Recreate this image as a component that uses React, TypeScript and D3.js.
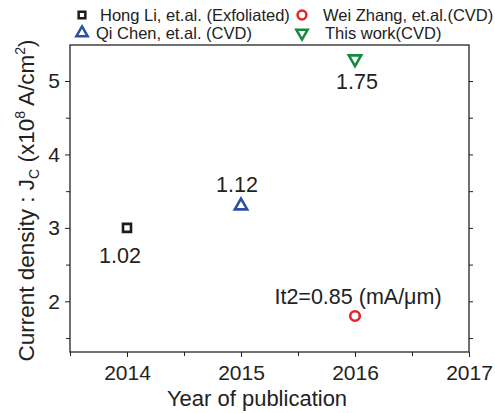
import React, { useEffect, useRef } from "react";
import * as d3 from "d3";

// Series / data
const seriesNames = [
  "Hong Li, et.al. (Exfoliated)",
  "Qi Chen, et.al. (CVD)",
  "Wei Zhang, et.al.(CVD)",
  "This work(CVD)",
];
const years = [2014, 2015, 2016, 2016];
const jcValues = [3.0, 3.3, 1.8, 5.3];
const pointNotes = ["1.02", "1.12", "It2=0.85 (mA/\u03bcm)", "1.75"];
const symbolKinds = ["square", "triangle", "circle", "triangleDown"];
const seriesColors = ["#1c1c1c", "#2d4fa3", "#e8202a", "#168a3c"];

const xTicks = [2014, 2015, 2016, 2017];
const yTicks = [2, 3, 4, 5];

const App: React.FC = () => {
  const svgRef = useRef<SVGSVGElement>(null);

  useEffect(() => {
    if (!svgRef.current) return;
    const width = 495;
    const height = 413;
    const margin = { top: 45, right: 26, bottom: 61, left: 70 };
    const innerW = width - margin.left - margin.right;
    const innerH = height - margin.top - margin.bottom;
    const font = "'Liberation Sans', Arial, sans-serif";
    const ink = "#222";

    const svg = d3.select(svgRef.current);
    svg.selectAll("*").remove();
    svg.attr("width", width).attr("height", height).style("font-family", font);

    const g = svg
      .append("g")
      .attr("transform", `translate(${margin.left},${margin.top})`);

    const x = d3.scaleLinear().domain([2013.5, 2017]).range([0, innerW]);
    const y = d3.scaleLinear().domain([1.31, 5.49]).range([innerH, 0]);

    // frame
    g.append("rect")
      .attr("width", innerW)
      .attr("height", innerH)
      .attr("fill", "none")
      .attr("stroke", ink)
      .attr("stroke-width", 1.3);

    // bottom axis
    const xAxis = g
      .append("g")
      .attr("transform", `translate(0,${innerH})`)
      .call(
        d3.axisBottom(x).tickValues(xTicks).tickSize(5).tickPadding(8).tickFormat(d3.format("d"))
      );
    g.append("g")
      .attr("transform", `translate(0,${innerH})`)
      .call(d3.axisBottom(x).tickValues([2013.5, 2014.5, 2015.5, 2016.5]).tickSize(4).tickFormat(() => ""))
      .call((s) => s.select(".domain").remove())
      .selectAll("line")
      .attr("stroke", ink);
    xAxis.select(".domain").remove();
    xAxis.selectAll("line").attr("stroke", ink);
    xAxis
      .selectAll("text")
      .attr("fill", ink)
      .attr("font-size", 21)
      .attr("font-family", font);

    // left axis
    const yAxis = g
      .append("g")
      .call(d3.axisLeft(y).tickValues(yTicks).tickSize(5).tickPadding(5).tickFormat(d3.format("d")));
    g.append("g")
      .call(d3.axisLeft(y).tickValues([1.5, 2.5, 3.5, 4.5]).tickSize(4).tickFormat(() => ""))
      .call((s) => s.select(".domain").remove())
      .selectAll("line")
      .attr("stroke", ink);
    yAxis.select(".domain").remove();
    yAxis.selectAll("line").attr("stroke", ink);
    yAxis
      .selectAll("text")
      .attr("fill", ink)
      .attr("font-size", 21)
      .attr("font-family", font);

    // right axis ticks
    g.append("g")
      .attr("transform", `translate(${innerW},0)`)
      .call(d3.axisRight(y).tickValues([1.5, 2, 2.5, 3, 3.5, 4, 4.5, 5]).tickSize(4).tickFormat(() => ""))
      .call((s) => s.select(".domain").remove())
      .selectAll("line")
      .attr("stroke", ink);

    // symbols
    const symbolPath = (kind: string, scale = 1) => {
      if (kind === "square") return d3.symbol(d3.symbolSquare, 64 * scale)();
      if (kind === "circle") return d3.symbol(d3.symbolCircle, 72 * scale)();
      return d3.symbol(d3.symbolTriangle, 66 * scale)();
    };
    const rot = (kind: string) => (kind === "triangleDown" ? " rotate(180)" : "");

    const pts = seriesNames.map((name, i) => ({
      name,
      year: years[i],
      value: jcValues[i],
      note: pointNotes[i],
      kind: symbolKinds[i],
      color: seriesColors[i],
    }));

    g.selectAll(".pt")
      .data(pts)
      .enter()
      .append("path")
      .attr("class", "pt")
      .attr("d", (d) => symbolPath(d.kind))
      .attr("transform", (d) => `translate(${x(d.year)},${y(d.value)})${rot(d.kind)}`)
      .attr("fill", "none")
      .attr("stroke", (d) => d.color)
      .attr("stroke-width", 2.6);

    // value notes
    const noteOffsets = [
      [-7, 27],
      [-4, -22],
      [3, -20],
      [2, 22],
    ];
    g.selectAll(".note")
      .data(pts)
      .enter()
      .append("text")
      .attr("class", "note")
      .attr("x", (d, i) => x(d.year) + noteOffsets[i][0])
      .attr("y", (d, i) => y(d.value) + noteOffsets[i][1])
      .attr("dy", "0.36em")
      .attr("text-anchor", "middle")
      .attr("font-size", 21.5)
      .attr("fill", ink)
      .text((d) => d.note);

    // legend
    const legendCols = [82, 302];
    const legendRows = [15, 33];
    const legendTextX = [100, 96, 323, 325];
    const legend = svg.append("g");
    pts.forEach((d, i) => {
      const col = i === 0 || i === 1 ? 0 : 1;
      const row = i === 0 || i === 2 ? 0 : 1;
      legend
        .append("path")
        .attr("d", symbolPath(d.kind, d.kind === "square" ? 0.7 : 0.85))
        .attr("transform", `translate(${legendCols[col]},${legendRows[row]})${rot(d.kind)}`)
        .attr("fill", "none")
        .attr("stroke", d.color)
        .attr("stroke-width", 2.5);
      legend
        .append("text")
        .attr("x", legendTextX[i])
        .attr("y", legendRows[row])
        .attr("dy", "0.36em")
        .attr("font-size", 16.5)
        .attr("fill", ink)
        .text(d.name);
    });

    // x axis label
    svg
      .append("text")
      .attr("x", 257)
      .attr("y", 406)
      .attr("text-anchor", "middle")
      .attr("font-size", 22)
      .attr("fill", ink)
      .text("Year of publication");

    // y axis label
    const yl = svg
      .append("text")
      .attr("transform", `translate(34,${margin.top + innerH / 2 + 2}) rotate(-90)`)
      .attr("text-anchor", "middle")
      .attr("font-size", 22.5)
      .attr("fill", ink);
    yl.append("tspan").text("Current density : J");
    yl.append("tspan").attr("font-size", 14).attr("dy", 5).text("C");
    yl.append("tspan").attr("dy", -5).text(" (x10");
    yl.append("tspan").attr("font-size", 14).attr("dy", -9).text("8");
    yl.append("tspan").attr("dy", 9).text(" A/cm");
    yl.append("tspan").attr("font-size", 14).attr("dy", -9).text("2");
    yl.append("tspan").attr("dy", 9).text(")");
  }, []);

  return (
    <svg
      ref={svgRef}
      style={{ position: "absolute", left: 0, top: 0, background: "#fff" }}
    />
  );
};

export default App;
